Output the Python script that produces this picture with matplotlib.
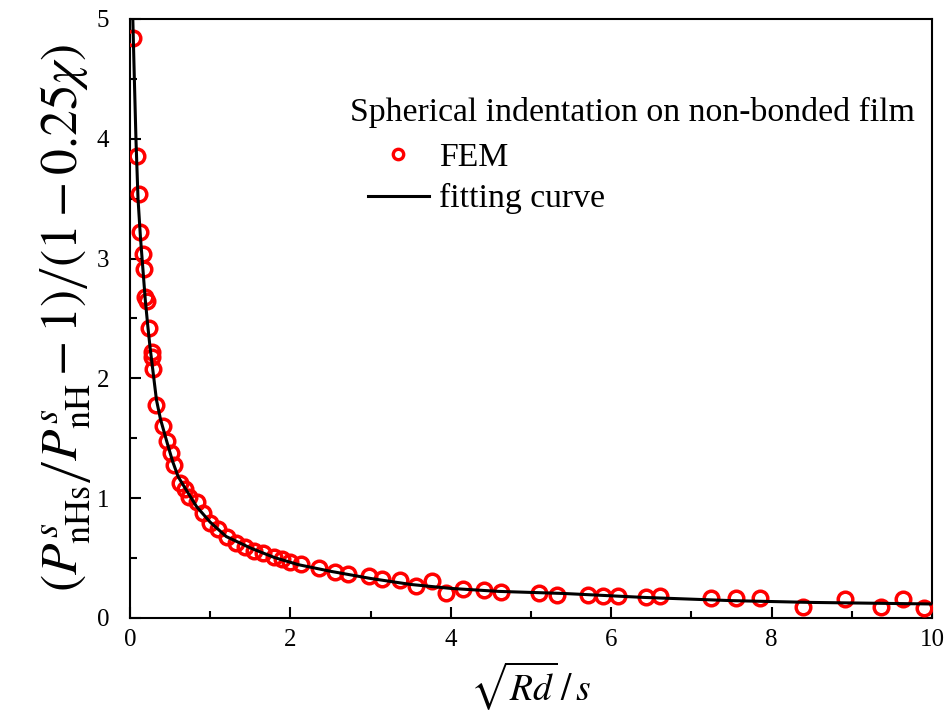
import matplotlib
matplotlib.use("Agg")
import matplotlib.pyplot as plt
from matplotlib.lines import Line2D

plt.rcParams['font.family'] = ['Liberation Serif', 'DejaVu Serif']
plt.rcParams['mathtext.fontset'] = 'stix'

# FEM data points
fem_x = [0.034, 0.091, 0.116, 0.125, 0.158, 0.175, 0.19, 0.21, 0.24, 0.27, 0.28, 0.29,
         0.33, 0.415, 0.465, 0.51, 0.55, 0.62, 0.68, 0.74, 0.83, 0.91, 1.0, 1.10, 1.21,
         1.32, 1.43, 1.54, 1.66, 1.79, 1.89, 2.00, 2.13, 2.36, 2.56, 2.72, 2.98, 3.14,
         3.37, 3.57, 3.76, 3.94, 4.15, 4.41, 4.63, 5.10, 5.32, 5.71, 5.90, 6.09, 6.43,
         6.61, 7.25, 7.56, 7.85, 8.39, 8.92, 9.37, 9.64, 9.90]
fem_y = [4.84, 3.86, 3.54, 3.22, 3.04, 2.91, 2.68, 2.65, 2.42, 2.22, 2.18, 2.08,
         1.775, 1.60, 1.48, 1.38, 1.275, 1.13, 1.075, 1.01, 0.965, 0.88, 0.79, 0.74, 0.675,
         0.63, 0.595, 0.56, 0.54, 0.51, 0.49, 0.47, 0.45, 0.415, 0.385, 0.365, 0.35, 0.325,
         0.315, 0.265, 0.31, 0.21, 0.245, 0.23, 0.22, 0.205, 0.195, 0.19, 0.185, 0.185, 0.175,
         0.18, 0.17, 0.165, 0.165, 0.09, 0.155, 0.095, 0.155, 0.08]

# fitting curve
fit_x = [0.035, 0.055, 0.075, 0.10, 0.13, 0.16, 0.19, 0.22, 0.25, 0.29, 0.33, 0.38,
         0.46, 0.53, 0.60, 0.70, 0.83, 1.0, 1.2, 1.5, 1.8, 2.1, 2.5, 3.0, 3.5, 4.0,
         4.6, 5.4, 6.4, 7.5, 8.5, 10.0]
fit_y = [5.0, 4.48, 3.98, 3.50, 3.18, 2.92, 2.66, 2.45, 2.26, 2.04, 1.82, 1.66,
         1.47, 1.31, 1.18, 1.07, 0.93, 0.80, 0.68, 0.585, 0.505, 0.445, 0.39, 0.33, 0.28, 0.247,
         0.222, 0.205, 0.172, 0.145, 0.13, 0.117]

x_ticks = [0, 2, 4, 6, 8, 10]
y_ticks = [0, 1, 2, 3, 4, 5]

fig = plt.figure(figsize=(9.48, 7.23), dpi=100)
ax = fig.add_axes([130/948, 1-618/723, (932-130)/948, (618-19)/723])

ax.plot(fem_x, fem_y, linestyle='none', marker='o', markersize=10.5, markerfacecolor='none',
        markeredgecolor='#ff0000', markeredgewidth=2.5, zorder=3)
ax.plot(fit_x, fit_y, color='black', linewidth=2.2, zorder=4)

ax.set_xlim(0, 10)
ax.set_ylim(0, 5)
ax.set_xticks(x_ticks)
ax.set_yticks(y_ticks)
ax.set_xticks([1, 3, 5, 7, 9], minor=True)
ax.set_yticks([0.5, 1.5, 2.5, 3.5, 4.5], minor=True)
ax.tick_params(which='both', direction='in', top=False, right=False, width=1.5,
               labelsize=18, pad=8)
ax.tick_params(axis='y', which='both', pad=15)
ax.tick_params(which='major', length=8)
ax.tick_params(which='minor', length=5)
for s in ax.spines.values():
    s.set_linewidth(1.5)

ax.set_xlabel(r'$\sqrt{Rd}\,\left/\,s\right.$', fontsize=27, labelpad=6)
ax.set_ylabel(r'$\left(P^{s}_{\mathrm{nHs}}\right/\left.P^{s}_{\mathrm{nH}}-1\right)\left/\left(1-0.25\chi\right)\right.$',
              fontsize=37, labelpad=2)

ax.text((350-130)/802, 1-(112-19)/599, 'Spherical indentation on non-bonded film',
        transform=ax.transAxes, fontsize=24.3, va='center', ha='left')

handles = [Line2D([], [], linestyle='none', marker='o', markersize=7.5, markerfacecolor='none',
                  markeredgecolor='#ff0000', markeredgewidth=2.4),
           Line2D([], [], color='black', linewidth=2.2)]
leg = ax.legend(handles, ['FEM', 'fitting curve'], loc='upper left',
                bbox_to_anchor=((368-130)/802, 1-(142-19)/599), frameon=False,
                fontsize=24.3, handlelength=1.8, handletextpad=0.3, borderpad=0,
                borderaxespad=0, labelspacing=0.32)

fig.savefig('out.png', dpi=100)
